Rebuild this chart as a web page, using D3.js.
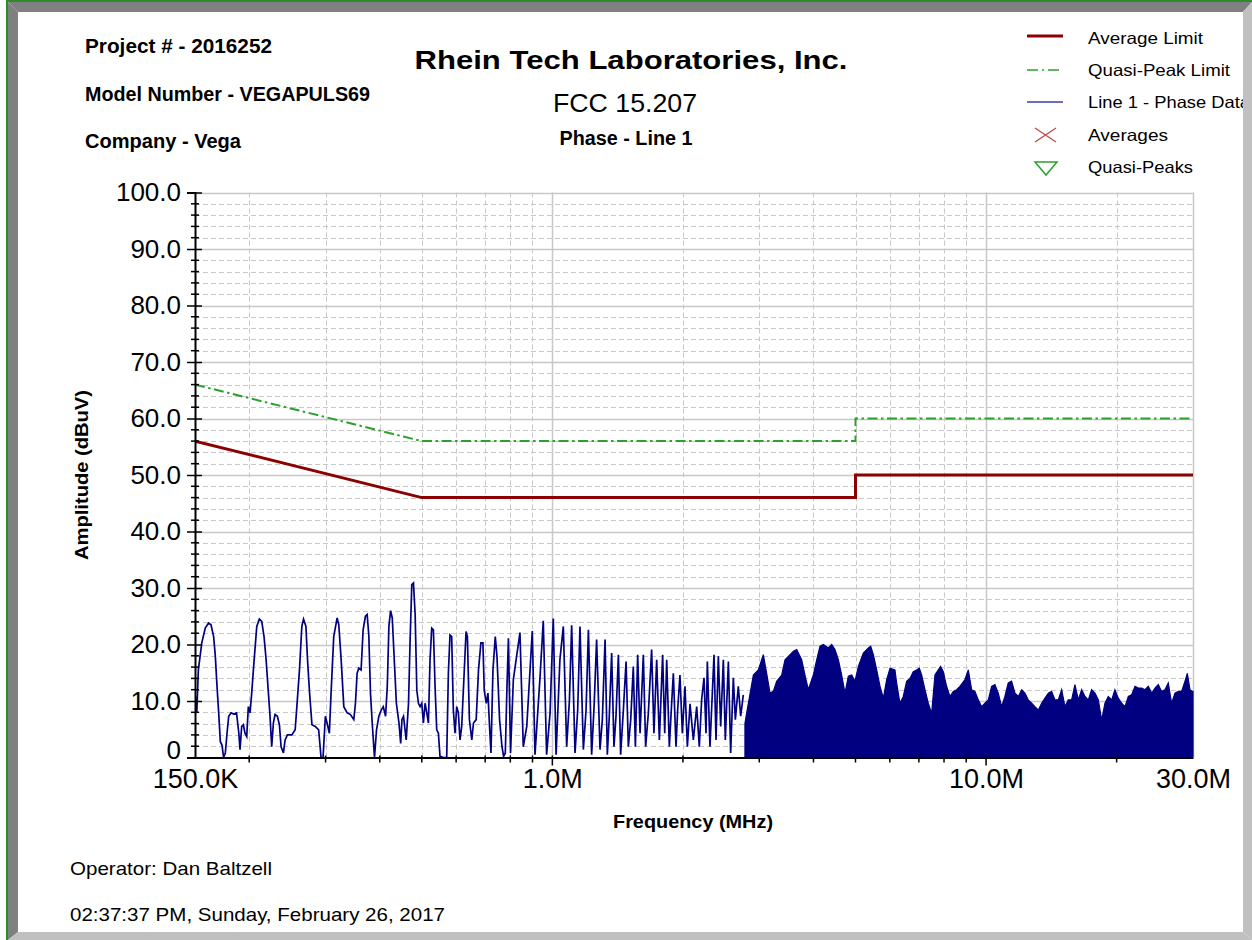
<!DOCTYPE html>
<html>
<head>
<meta charset="utf-8">
<script src="https://cdn.jsdelivr.net/npm/d3@7"></script>
<style>
  body { margin: 0; background: #fff; }
  svg { display: block; }
  text { font-family: "Liberation Sans", Arial, sans-serif; fill: #000; }
</style>
</head>
<body>
<div id="chart"></div>
<script>
// ---- chart data ----
var headerLines = ["Project # - 2016252", "Model Number - VEGAPULS69", "Company - Vega"];
var titleLines = ["Rhein Tech Laboratories, Inc.", "FCC 15.207", "Phase - Line 1"];
var footerLines = ["Operator: Dan Baltzell", "02:37:37 PM, Sunday, February 26, 2017"];
var legendNames = ["Average Limit", "Quasi-Peak Limit", "Line 1 - Phase Data", "Averages", "Quasi-Peaks"];

// y axis ticks (dBuV)
var yTickValues = [0, 10, 20, 30, 40, 50, 60, 70, 80, 90, 100];
var yTickLabels = ["0", "10.0", "20.0", "30.0", "40.0", "50.0", "60.0", "70.0", "80.0", "90.0", "100.0"];
// x axis ticks (MHz)
var xTickValues = [0.15, 1, 10, 30];
var xTickLabels = ["150.0K", "1.0M", "10.0M", "30.0M"];
var xMajorFreqs = [1, 10];
var xMinorFreqs = [0.2, 0.3, 0.4, 0.5, 0.6, 0.7, 0.8, 0.9, 2, 3, 4, 5, 6, 7, 8, 9, 20];

// limit lines [MHz, dBuV]
var avgLimit = [[0.15, 56], [0.5, 46], [5, 46], [5, 50], [30, 50]];
var qpLimit = [[0.15, 66], [0.5, 56], [5, 56], [5, 60], [30, 60]];

// measured phase data, sparse part [MHz, dBuV]
var phaseTrace = [
 [0.1500,11.4],[0.1514,7.9],[0.1527,15.5],[0.1555,20.3],[0.1584,22.9],[0.1612,23.8],[0.1633,23.5],[0.1656,21.4],[0.1671,17.9],[0.1686,12.6],
 [0.1701,7.9],[0.1716,2.8],[0.1731,2.2],[0.1746,0.0],[0.1762,0.8],[0.1778,4.3],[0.1794,7.3],[0.1817,7.9],[0.1843,7.7],[0.1870,7.9],
 [0.1893,4.3],[0.1905,1.4],[0.1922,5.5],[0.1939,5.8],[0.1956,4.3],[0.1974,3.7],[0.1991,9.0],[0.2009,7.9],[0.2027,11.4],[0.2045,15.5],
 [0.2082,23.2],[0.2111,24.5],[0.2138,24.1],[0.2164,21.4],[0.2188,17.3],[0.2215,11.4],[0.2234,7.3],[0.2254,1.9],[0.2274,6.1],[0.2294,7.6],
 [0.2323,7.3],[0.2348,5.8],[0.2369,1.9],[0.2399,0.8],[0.2420,3.1],[0.2450,4.0],[0.2508,4.0],[0.2553,4.9],[0.2576,9.0],[0.2612,15.5],
 [0.2645,23.2],[0.2669,24.5],[0.2703,23.2],[0.2726,17.3],[0.2756,11.4],[0.2791,5.8],[0.2841,5.5],[0.2892,4.9],[0.2929,0.0],[0.2960,0.0],
 [0.2997,7.3],[0.3024,6.1],[0.3061,4.3],[0.3089,11.4],[0.3133,21.4],[0.3190,24.7],[0.3218,23.5],[0.3259,17.3],[0.3305,9.0],[0.3365,7.9],
 [0.3424,7.6],[0.3485,6.7],[0.3516,9.6],[0.3547,14.9],[0.3578,15.8],[0.3623,15.5],[0.3662,22.6],[0.3707,25.0],[0.3741,25.3],[0.3774,21.7],
 [0.3808,11.4],[0.3843,6.1],[0.3890,0.0],[0.3932,4.9],[0.3981,7.3],[0.4032,8.4],[0.4075,9.0],[0.4126,7.3],[0.4163,12.6],[0.4199,23.2],
 [0.4237,26.0],[0.4275,24.7],[0.4313,18.5],[0.4369,9.6],[0.4430,6.1],[0.4470,2.5],[0.4500,6.7],[0.4538,7.3],[0.4603,3.1],[0.4660,9.6],
 [0.4700,20.9],[0.4742,30.6],[0.4784,30.9],[0.4827,25.3],[0.4870,11.9],[0.4912,9.6],[0.4955,9.0],[0.5000,9.6],[0.5043,6.1],[0.5089,9.6],
 [0.5134,7.9],[0.5179,6.1],[0.5224,17.3],[0.5271,22.9],[0.5318,22.6],[0.5365,12.6],[0.5413,4.9],[0.5461,4.3],[0.5508,0.2],[0.5606,0.0],
 [0.5707,0.0],[0.5758,14.9],[0.5808,21.7],[0.5860,21.4],[0.5912,8.4],[0.5965,4.3],[0.6019,9.0],[0.6072,7.9],[0.6125,3.1],[0.6180,5.5],
 [0.6235,11.9],[0.6325,22.3],[0.6370,21.4],[0.6438,6.7],[0.6521,3.1],[0.6579,6.1],[0.6674,6.7],[0.6757,15.5],[0.6843,20.3],[0.6917,20.3],
 [0.6966,11.9],[0.7041,9.6],[0.7104,11.4],[0.7165,5.5],[0.7219,0.8],[0.7296,15.5],[0.7386,21.4],[0.7453,17.9],[0.7557,6.7],[0.7654,1.9],
 [0.7720,0.2],[0.7790,0.8],[0.7860,12.6],[0.792,21.1],[0.801,0.8],[0.813,13.8],[0.842,22.1],[0.857,1.9],[0.873,5.5],[0.899,22.4],
 [0.912,0.5],[0.937,14.4],[0.953,24.2],[0.970,0.5],[0.988,7.9],[1.005,24.6],[1.020,0.5],[1.041,17.3],[1.060,23.2],[1.079,1.9],
 [1.095,10.2],[1.108,23.4],[1.128,0.8],[1.144,8.4],[1.158,23.2],[1.179,1.4],[1.196,8.4],[1.211,22.6],[1.232,0.5],[1.248,9.0],
 [1.265,20.9],[1.288,1.4],[1.304,6.7],[1.323,20.9],[1.339,0.5],[1.353,7.3],[1.370,18.5],[1.387,1.9],[1.402,7.3],[1.420,18.2],
 [1.437,0.5],[1.458,8.4],[1.479,17.0],[1.497,1.9],[1.516,6.7],[1.537,16.1],[1.554,1.9],[1.573,18.2],[1.593,4.3],[1.621,18.2],
 [1.641,1.9],[1.665,7.9],[1.694,19.1],[1.715,4.3],[1.740,17.3],[1.765,3.1],[1.796,18.2],[1.816,4.3],[1.835,17.3],[1.861,1.9],
 [1.884,9.6],[1.901,14.9],[1.928,1.9],[1.945,8.4],[1.969,14.6],[1.994,4.3],[2.022,12.6],[2.048,1.9],[2.077,9.5],[2.114,3.1],
 [2.152,9.0],[2.182,1.9],[2.209,10.2],[2.237,14.1],[2.261,4.3],[2.277,17.0],[2.309,1.9],[2.338,11.4],[2.359,18.2],[2.384,3.1],
 [2.414,17.9],[2.444,5.5],[2.479,17.3],[2.505,3.1],[2.546,17.0],[2.577,0.8],[2.614,14.1],[2.642,6.7],[2.684,12.6],[2.718,7.3],
 [2.756,11.1]
];

// measured phase data, dense part above ~2.8 MHz: top of the trace [MHz, dBuV]
var phaseDense = [
 [2.780,6.0],[2.806,7.9],[2.907,14.6],[2.985,15.5],[3.065,18.2],[3.120,14.9],[3.176,11.4],[3.232,11.7],[3.290,13.5],[3.379,14.6],
 [3.439,17.3],[3.532,18.2],[3.595,18.8],[3.659,19.1],[3.757,17.3],[3.824,14.6],[3.892,12.0],[3.997,14.6],[4.069,17.3],[4.141,19.7],
 [4.215,20.0],[4.328,19.4],[4.406,20.0],[4.484,19.1],[4.565,17.3],[4.646,14.6],[4.729,11.4],[4.813,14.4],[4.900,14.6],[4.987,13.5],
 [5.076,16.1],[5.212,18.5],[5.353,19.4],[5.420,19.7],[5.497,18.2],[5.595,15.5],[5.695,12.6],[5.797,10.5],[5.900,13.8],[6.006,15.8],
 [6.165,15.5],[6.220,13.2],[6.331,9.6],[6.444,10.8],[6.559,13.5],[6.676,14.0],[6.795,15.2],[6.916,15.5],[7.015,15.8],[7.103,14.6],
 [7.230,12.0],[7.358,9.6],[7.490,7.8],[7.624,14.6],[7.760,15.5],[7.856,16.1],[7.968,15.2],[8.110,12.6],[8.255,10.8],[8.403,11.7],
 [8.553,12.0],[8.705,12.6],[8.940,13.8],[9.099,15.5],[9.262,12.0],[9.427,11.7],[9.596,10.2],[9.767,9.0],[9.941,9.6],[10.12,10.2],
 [10.30,12.6],[10.48,12.9],[10.67,11.4],[10.86,9.0],[11.05,10.8],[11.25,13.2],[11.45,13.5],[11.66,11.4],[11.87,10.8],[12.08,12.0],
 [12.29,11.4],[12.51,10.2],[12.74,9.6],[12.96,9.0],[13.20,8.4],[13.43,9.6],[13.67,10.5],[13.92,11.4],[14.16,11.7],[14.42,10.2],
 [14.67,10.2],[14.94,12.0],[15.20,9.0],[15.47,10.2],[15.75,10.2],[16.03,12.9],[16.32,10.2],[16.61,12.0],[16.91,10.8],[17.21,10.2],
 [17.51,12.0],[17.83,11.4],[18.15,10.2],[18.47,6.6],[18.80,9.6],[19.13,10.8],[19.48,10.2],[19.82,12.0],[20.18,10.5],[20.54,9.6],
 [20.91,9.0],[21.28,10.8],[21.66,11.1],[22.05,12.6],[22.44,12.3],[22.84,12.3],[23.25,12.0],[23.66,12.6],[24.09,11.4],[24.52,12.3],
 [24.95,12.9],[25.40,11.7],[25.85,12.0],[26.31,13.2],[26.78,9.6],[27.26,11.4],[27.75,11.7],[28.24,11.7],[28.75,13.5],[29.11,14.9],
 [29.52,12.0],[29.94,11.7],[30.0,11.7]
];

// ---- page setup ----
var W = 1252, H = 940;
var plot = {left: 195, right: 1193, top: 192.5, bottom: 757.5};

var svg = d3.select("#chart")
  .append("svg")
    .attr("width", W)
    .attr("height", H);

svg.append("rect").attr("width", W).attr("height", H).attr("fill", "#fff");

var x = d3.scaleLog()
  .domain([0.15, 30])
  .range([plot.left, plot.right]);

var y = d3.scaleLinear()
  .domain([0, 100])
  .range([plot.bottom, plot.top]);

var gridColor = "#c8c8c8";

// minor grid (dashed)
var yMinor = d3.range(2, 100, 2).filter(function(d) { return d % 10 != 0 });
svg.append("g").selectAll("line")
  .data(yMinor)
  .enter().append("line")
    .attr("x1", plot.left).attr("x2", plot.right)
    .attr("y1", function(d) { return Math.round(y(d)) + 0.5 })
    .attr("y2", function(d) { return Math.round(y(d)) + 0.5 })
    .attr("stroke", gridColor)
    .attr("stroke-dasharray", "5,3");

svg.append("g").selectAll("line")
  .data(xMinorFreqs)
  .enter().append("line")
    .attr("x1", function(d) { return Math.round(x(d)) + 0.5 })
    .attr("x2", function(d) { return Math.round(x(d)) + 0.5 })
    .attr("y1", plot.top).attr("y2", plot.bottom)
    .attr("stroke", gridColor)
    .attr("stroke-dasharray", "5,3");

// major grid (solid)
svg.append("g").selectAll("line")
  .data(yTickValues.slice(1))
  .enter().append("line")
    .attr("x1", plot.left).attr("x2", plot.right)
    .attr("y1", function(d) { return Math.round(y(d)) + 0.5 })
    .attr("y2", function(d) { return Math.round(y(d)) + 0.5 })
    .attr("stroke", gridColor)
    .attr("stroke-width", 1.5);

svg.append("g").selectAll("line")
  .data(xMajorFreqs.concat([30]))
  .enter().append("line")
    .attr("x1", function(d) { return Math.round(x(d)) + 0.5 })
    .attr("x2", function(d) { return Math.round(x(d)) + 0.5 })
    .attr("y1", plot.top).attr("y2", plot.bottom)
    .attr("stroke", gridColor)
    .attr("stroke-width", 1.5);

// clip everything drawn inside the plot
svg.append("clipPath").attr("id", "plotclip")
  .append("rect")
    .attr("x", plot.left).attr("y", plot.top - 5)
    .attr("width", plot.right - plot.left + 1).attr("height", plot.bottom - plot.top + 5);

var plotG = svg.append("g").attr("clip-path", "url(#plotclip)");

var line = d3.line()
  .x(function(d) { return x(d[0]) })
  .y(function(d) { return y(d[1]) });

var area = d3.area()
  .x(function(d) { return x(d[0]) })
  .y0(y(0))
  .y1(function(d) { return y(d[1]) });

// phase data
plotG.append("path")
  .datum(phaseTrace)
  .attr("d", line)
  .attr("fill", "none")
  .attr("stroke", "#000080")
  .attr("stroke-width", 1.7)
  .attr("stroke-linejoin", "miter");

plotG.append("path")
  .datum(phaseDense)
  .attr("d", area)
  .attr("fill", "#000080")
  .attr("stroke", "#000080")
  .attr("stroke-width", 1.2);

// limits
plotG.append("path")
  .datum(qpLimit)
  .attr("d", line)
  .attr("fill", "none")
  .attr("stroke", "#2ca02c")
  .attr("stroke-width", 2)
  .attr("stroke-dasharray", "10,3.5,2.5,3.5");

plotG.append("path")
  .datum(avgLimit)
  .attr("d", line)
  .attr("fill", "none")
  .attr("stroke", "#8b0000")
  .attr("stroke-width", 3);

// ---- axes ----
// y axis
var yAxis = svg.append("g")
  .attr("transform", "translate(" + plot.left + ",0)")
  .call(d3.axisLeft(y)
    .tickValues(yTickValues)
    .tickFormat(function(d, i) { return yTickLabels[i] })
    .tickSize(8)
    .tickPadding(6));
yAxis.select(".domain").attr("stroke", "#000").attr("stroke-width", 2);
yAxis.selectAll(".tick line").attr("x1", 7).attr("stroke-width", 1.5);
yAxis.selectAll(".tick text")
  .attr("font-size", 26)
  .attr("font-family", "Liberation Sans, Arial, sans-serif")
  .attr("fill", "#000");
// the "0" label sits on the axis line, not centred on it
yAxis.selectAll(".tick text")
  .filter(function(d) { return d == 0 })
  .attr("dy", "0")
  .attr("y", 1);

svg.append("g").selectAll("line")
  .data(yMinor)
  .enter().append("line")
    .attr("x1", plot.left - 4).attr("x2", plot.left + 4)
    .attr("y1", function(d) { return y(d) })
    .attr("y2", function(d) { return y(d) })
    .attr("stroke", "#000")
    .attr("stroke-width", 1.5);

// x axis
var xAxis = svg.append("g")
  .attr("transform", "translate(0," + plot.bottom + ")")
  .call(d3.axisBottom(x)
    .tickValues(xTickValues)
    .tickFormat(function(d, i) { return xTickLabels[i] })
    .tickSize(0)
    .tickPadding(11));
xAxis.select(".domain").attr("stroke", "#000").attr("stroke-width", 2);
xAxis.selectAll(".tick text")
  .attr("font-size", 27)
  .attr("font-family", "Liberation Sans, Arial, sans-serif")
  .attr("fill", "#000");

svg.append("g").selectAll("line")
  .data(xMinorFreqs.concat(xMajorFreqs))
  .enter().append("line")
    .attr("x1", function(d) { return x(d) })
    .attr("x2", function(d) { return x(d) })
    .attr("y1", plot.bottom - 2)
    .attr("y2", function(d) { return plot.bottom + (xMajorFreqs.indexOf(d) >= 0 ? 8 : 5) })
    .attr("stroke", "#000")
    .attr("stroke-width", 1.5);

// axis titles
svg.append("text")
  .attr("x", 693).attr("y", 828)
  .attr("text-anchor", "middle")
  .attr("font-size", 19).attr("font-weight", "bold")
  .attr("textLength", 160).attr("lengthAdjust", "spacingAndGlyphs")
  .text("Frequency (MHz)");

svg.append("text")
  .attr("transform", "translate(88,475) rotate(-90)")
  .attr("text-anchor", "middle")
  .attr("font-size", 19).attr("font-weight", "bold")
  .attr("textLength", 170).attr("lengthAdjust", "spacingAndGlyphs")
  .text("Amplitude (dBuV)");

// ---- header ----
var headerY = [53, 101, 148];
var headerW = [187, 285, 156];
svg.append("g").selectAll("text")
  .data(headerLines)
  .enter().append("text")
    .attr("x", 85)
    .attr("y", function(d, i) { return headerY[i] })
    .attr("font-size", 19.5).attr("font-weight", "bold")
    .attr("textLength", function(d, i) { return headerW[i] })
    .attr("lengthAdjust", "spacingAndGlyphs")
    .text(function(d) { return d });

var titleStyle = [
  {x: 631, y: 69, size: 25, weight: "bold", w: 433},
  {x: 625, y: 112, size: 26, weight: "normal", w: 144},
  {x: 626, y: 145, size: 19.5, weight: "bold", w: 133}
];
svg.append("g").selectAll("text")
  .data(titleLines)
  .enter().append("text")
    .attr("x", function(d, i) { return titleStyle[i].x })
    .attr("y", function(d, i) { return titleStyle[i].y })
    .attr("text-anchor", "middle")
    .attr("font-size", function(d, i) { return titleStyle[i].size })
    .attr("font-weight", function(d, i) { return titleStyle[i].weight })
    .attr("textLength", function(d, i) { return titleStyle[i].w })
    .attr("lengthAdjust", "spacingAndGlyphs")
    .text(function(d) { return d });

// ---- footer ----
var footerY = [875, 921];
var footerW = [202, 375];
svg.append("g").selectAll("text")
  .data(footerLines)
  .enter().append("text")
    .attr("x", 70)
    .attr("y", function(d, i) { return footerY[i] })
    .attr("font-size", 18.5)
    .attr("textLength", function(d, i) { return footerW[i] })
    .attr("lengthAdjust", "spacingAndGlyphs")
    .text(function(d) { return d });

// ---- legend ----
var legend = svg.append("g");
var legY = [38, 70, 102, 135, 167];
var legW = [115, 142, 162, 80, 105];
legend.selectAll("text")
  .data(legendNames)
  .enter().append("text")
    .attr("x", 1088)
    .attr("y", function(d, i) { return legY[i] + 6 })
    .attr("font-family", "DejaVu Sans, sans-serif")
    .attr("font-size", 16.5)
    .attr("textLength", function(d, i) { return legW[i] })
    .attr("lengthAdjust", "spacingAndGlyphs")
    .text(function(d) { return d });

legend.append("line")
  .attr("x1", 1027).attr("x2", 1063).attr("y1", 36).attr("y2", 36)
  .attr("stroke", "#8b0000").attr("stroke-width", 3);
legend.append("line")
  .attr("x1", 1027).attr("x2", 1063).attr("y1", legY[1]).attr("y2", legY[1])
  .attr("stroke", "#2ca02c").attr("stroke-width", 1.5)
  .attr("stroke-dasharray", "11,4,2,4");
legend.append("line")
  .attr("x1", 1027).attr("x2", 1063).attr("y1", legY[2]).attr("y2", legY[2])
  .attr("stroke", "#3c3ca8").attr("stroke-width", 1.5);
legend.append("path")
  .attr("d", "M1035,128L1056,142M1035,142L1056,128")
  .attr("stroke", "#c04848").attr("stroke-width", 1.3).attr("fill", "none");
legend.append("path")
  .attr("d", "M1035,162L1057,162L1046,175Z")
  .attr("stroke", "#2ca02c").attr("stroke-width", 1.5).attr("fill", "none");

// ---- window frame ----
var frame = svg.append("g");
frame.append("polygon").attr("points", "8,2 1252,2 1243,12 18,12").attr("fill", "#808080");
frame.append("polygon").attr("points", "8,2 18,12 18,932 8,940").attr("fill", "#808080");
frame.append("polygon").attr("points", "1252,2 1252,940 1243,932 1243,12").attr("fill", "#c0c0c0");
frame.append("polygon").attr("points", "8,940 1252,940 1243,932 18,932").attr("fill", "#c0c0c0");
frame.append("rect").attr("x", 6).attr("y", 0).attr("width", 1246).attr("height", 2).attr("fill", "#2e8b2e");
frame.append("rect").attr("x", 6).attr("y", 0).attr("width", 2).attr("height", 940).attr("fill", "#2e8b2e");
</script>
</body>
</html>
